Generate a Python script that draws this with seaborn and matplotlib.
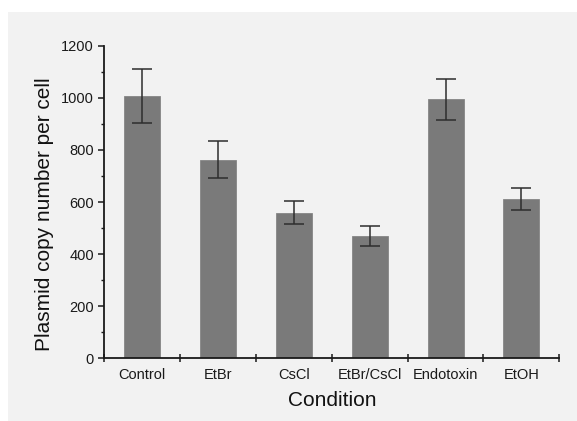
import matplotlib
matplotlib.use("Agg")
import matplotlib.pyplot as plt
from matplotlib.patches import Rectangle
from matplotlib.ticker import MultipleLocator, FixedLocator, NullFormatter
import seaborn as sns
import pandas as pd

conditions = ["Control", "EtBr", "CsCl", "EtBr/CsCl", "Endotoxin", "EtOH"]
copy_number = [1008, 763, 560, 470, 994, 613]
error_values = [103, 71, 45, 38, 78, 42]

sns.set_theme(style="ticks")
plt.rcParams["font.family"] = ["Liberation Sans", "DejaVu Sans"]

df = pd.DataFrame({"Condition": conditions, "Copies": copy_number})

fig = plt.figure(figsize=(5.77, 4.21), dpi=100)
fig.patch.set_facecolor("white")
fig.patches.append(Rectangle((8 / 577, 0), 1, 1 - 12 / 421, transform=fig.transFigure,
                             facecolor="#f2f2f2", edgecolor="none", zorder=-10))
ax = fig.add_axes([0.1808, 0.1485, 0.7885, 0.7429])
ax.set_facecolor("none")

sns.barplot(data=df, x="Condition", y="Copies", color="#7a7a7a", saturation=1,
            width=0.475, errorbar=None, edgecolor="#868686", linewidth=0.6, ax=ax)
ax.errorbar(range(len(conditions)), copy_number, yerr=error_values, fmt="none",
            ecolor="#2e2e2e", elinewidth=1.1, capsize=7, capthick=1.1, zorder=5)

ax.set_xlim(-0.5, len(conditions) - 0.5)
ax.set_ylim(0, 1200)
sns.despine(ax=ax)
for sp in ("left", "bottom"):
    ax.spines[sp].set_linewidth(1.3)
    ax.spines[sp].set_color("#1a1a1a")

ax.yaxis.set_major_locator(MultipleLocator(200))
ax.yaxis.set_minor_locator(MultipleLocator(100))
ax.tick_params(axis="y", which="major", direction="out", length=4.5, width=1.1,
               pad=3, labelsize=10.5, colors="#1a1a1a")
ax.tick_params(axis="y", which="minor", direction="out", length=2.5, width=1.0, colors="#1a1a1a")

# category labels centred, boundary ticks between categories
ax.set_xticks(range(len(conditions)))
ax.set_xticklabels(conditions)
ax.tick_params(axis="x", which="major", length=0, pad=7, labelsize=10.5, colors="#1a1a1a")
ax.xaxis.set_minor_locator(FixedLocator([i - 0.5 for i in range(len(conditions) + 1)]))
ax.xaxis.set_minor_formatter(NullFormatter())
ax.tick_params(axis="x", which="minor", direction="inout", length=6, width=1.1, colors="#1a1a1a")

ax.set_ylabel("Plasmid copy number per cell", fontsize=15, color="#111111")
ax.set_xlabel("Condition", fontsize=15, color="#111111")
ax.yaxis.set_label_coords(-0.11, 0.462)
ax.xaxis.set_label_coords(0.5, -0.104)

fig.savefig("out.png", dpi=100)
